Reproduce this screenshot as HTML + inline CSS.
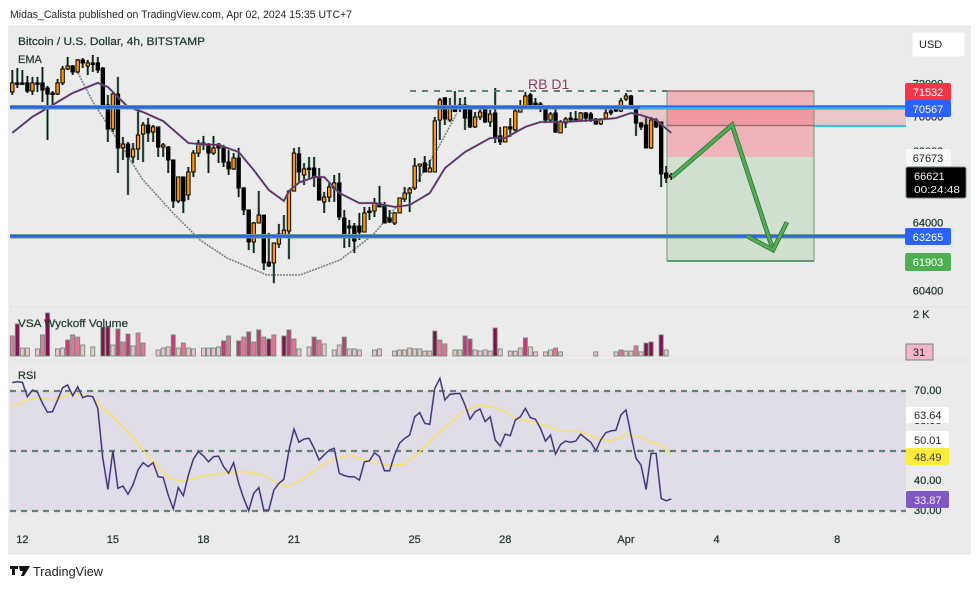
<!DOCTYPE html>
<html lang="en">
<head>
<meta charset="utf-8">
<title>Bitcoin / U.S. Dollar chart</title>
<style>
html,body{margin:0;padding:0;background:#fff;width:980px;height:589px;overflow:hidden}
svg{display:block;font-family:"Liberation Sans",sans-serif}
text{fill:#243d30}
text:not([style]){stroke:#243d30;stroke-width:.25}
</style>
</head>
<body>
<svg id="chart" width="980" height="589" viewBox="0 0 980 589" xmlns="http://www.w3.org/2000/svg">
  <text x="10" y="18" font-size="11" textLength="342" lengthAdjust="spacingAndGlyphs" style="fill:#1c2420">Midas_Calista published on TradingView.com, Apr 02, 2024 15:35 UTC+7</text>
  <rect x="9" y="26" width="961" height="528" fill="#ebebeb" stroke="#e2e2ea"/>
  <line x1="10" x2="970" y1="307" y2="307" stroke="#e0e0ea"/>
  <line x1="10" x2="970" y1="360" y2="360" stroke="#e0e0ea"/>

  <rect x="10" y="391" width="896" height="120" fill="#e0dce8"/>
  <line x1="10" x2="906" y1="391" y2="391" stroke="#5f8272" stroke-width="2.2" stroke-dasharray="6 5"/>
  <line x1="10" x2="906" y1="451" y2="451" stroke="#5f8272" stroke-width="2.2" stroke-dasharray="6 5"/>
  <line x1="10" x2="906" y1="511" y2="511" stroke="#5f8272" stroke-width="2.2" stroke-dasharray="6 5"/>

  <polygon points="667,91 814,91 814,157 667,157" fill="#eeb4b9"/>
  <polygon points="667,157 814,157 814,261 667,261" fill="#cfe0cf"/>
  <polygon points="640,108 906,108 906,126 640,126" fill="#e8a8ae" opacity="0.55"/>
  <rect x="667" y="108" width="147" height="17" fill="#ef9aa3"/>
  <rect x="667" y="91" width="147" height="170" fill="none" stroke="#6f9a7c" stroke-width="1"/>
  <line x1="664" x2="814" y1="91" y2="91" stroke="#a86a6a" stroke-width="1.5"/>
  <line x1="667" x2="814" y1="261" y2="261" stroke="#3f7f50" stroke-width="1.5"/>
  <line x1="667" x2="814" y1="125.5" y2="125.5" stroke="#a06a66" stroke-width="1.5"/>
  <line x1="814" x2="906" y1="126" y2="126" stroke="#26bcd6" stroke-width="1.8"/>

  <polyline points="78,73 93,102 113,133 143,180 173,213 200,240 227,258 267,275 300,275 340,260 373,235 417,182 437,150 457,113" fill="none" stroke="#75857d" stroke-width="1.6" stroke-dasharray="2 1"/>

  <g id="candles"></g>
  <g id="ema"></g>

  <rect x="10" y="105" width="896" height="4.5" fill="#6c9a86"/>
  <rect x="10" y="106" width="896" height="2.5" fill="#2962ff"/>
  <line x1="640" x2="906" y1="108" y2="108" stroke="#26bcd6" stroke-width="1.8"/>
  <rect x="10" y="234" width="896" height="4.5" fill="#6c9a86"/>
  <rect x="10" y="235" width="896" height="2.5" fill="#2962ff"/>

  <line x1="410" x2="667" y1="91" y2="91" stroke="#4a7a60" stroke-width="1.8" stroke-dasharray="6 6"/>
  <text x="528" y="89" font-size="14" style="fill:#8a3d68">RB D1</text>

  <polyline points="672,177 732,125 773,250" fill="none" stroke="#3a6a45" stroke-width="4.6"/>
  <polyline points="672,177 732,125 773,250" fill="none" stroke="#4caf50" stroke-width="3"/>
  <polyline points="747,236 773,250 787,222" fill="none" stroke="#3a6a45" stroke-width="4.6"/>
  <polyline points="747,236 773,250 787,222" fill="none" stroke="#4caf50" stroke-width="3"/>

  <g id="volume"></g>
  <g id="rsi"></g>

  <text x="18" y="45" font-size="11" textLength="187" lengthAdjust="spacingAndGlyphs">Bitcoin / U.S. Dollar, 4h, BITSTAMP</text>
  <text x="18" y="63" font-size="11">EMA</text>
  <text x="18" y="327" font-size="11" textLength="110" lengthAdjust="spacingAndGlyphs">VSA Wyckoff Volume</text>
  <text x="18" y="379" font-size="11">RSI</text>

  <rect x="912" y="32" width="53" height="25" rx="2" fill="#fff" stroke="#e8e8ee"/>
  <text x="919" y="48" font-size="11" style="fill:#222">USD</text>

  <g id="price-axis"></g>
  <rect x="905" y="253" width="46" height="18" rx="2" fill="#4caf50"/>
  <text x="928" y="266" font-size="11" text-anchor="middle" style="fill:#fff">61903</text>
  <rect x="905" y="83" width="46" height="18" rx="2" fill="#f23645"/>
  <text x="928" y="96" font-size="11" text-anchor="middle" style="fill:#fff">71532</text>
  <rect x="905" y="100" width="46" height="17" rx="2" fill="#2962ff"/>
  <text x="928" y="113" font-size="11" text-anchor="middle" style="fill:#fff">70567</text>
  <rect x="906" y="149" width="45" height="17" fill="#f7f7f7"/>
  <text x="928" y="162" font-size="11" text-anchor="middle" style="fill:#1c2420">67673</text>
  <rect x="906" y="167" width="60" height="31" rx="2" fill="#000" stroke="#6c8a78"/>
  <text x="914" y="180" font-size="11" style="fill:#f4f4f4">66621</text>
  <text x="914" y="193" font-size="10.5" textLength="46" lengthAdjust="spacingAndGlyphs" style="fill:#f4f4f4">00:24:48</text>
  <rect x="905" y="228" width="46" height="17" rx="2" fill="#2962ff"/>
  <text x="928" y="241" font-size="11" text-anchor="middle" style="fill:#fff">63265</text>

  <text x="913" y="318" font-size="11">2 K</text>
  <rect x="906" y="344" width="27" height="16" fill="#f4b4cc" stroke="#6c8a78"/>
  <text x="919" y="356" font-size="11" text-anchor="middle" style="fill:#222">31</text>

  <g id="rsi-axis"></g>
  <rect x="906" y="407" width="43" height="16" fill="#fff"/>
  <text x="914" y="419" font-size="11" style="fill:#1c2420">63.64</text>
  <rect x="906" y="431" width="43" height="17" fill="#fff"/>
  <text x="914" y="444" font-size="11" style="fill:#1c2420">50.01</text>
  <rect x="906" y="448" width="43" height="17" rx="2" fill="#ffeb3b"/>
  <text x="914" y="461" font-size="11" style="fill:#333a55">48.49</text>
  <rect x="906" y="491" width="43" height="17" rx="2" fill="#7e57c2"/>
  <text x="914" y="504" font-size="11" style="fill:#f0f0f0">33.87</text>

  <g id="time-axis"></g>

  <path d="M10 566h8v3h-3v6h-3v-6h-2z M19 566h11l-6 10h-3l2-5h-3z" fill="#111"/>
  <text x="33" y="576" font-size="12.5" textLength="70" lengthAdjust="spacingAndGlyphs" style="fill:#222">TradingView</text>
</svg>
<script>
const opens=[71420,71930,71930,71930,71470,71930,71930,71640,71360,71300,71930,72720,72890,72550,73230,72890,73060,73060,72770,70680,69320,71300,68250,68470,67740,68190,69040,69550,69150,69440,68300,68300,67570,65250,66610,65590,66890,67960,68530,68470,67960,68470,68250,67450,67060,67680,65980,64740,62930,64000,64450,61790,61740,62810,63270,63550,65810,67910,66720,67110,67110,66610,65190,65470,65980,66270,64280,63830,63830,63830,63490,64680,64680,65130,65020,64280,64000,64570,65360,65700,65980,67230,67400,66890,66890,69830,71080,69830,70400,70510,70680,70510,69440,70000,70450,69720,70230,68930,68590,69440,69270,70280,70570,71250,70790,70740,70450,69830,70230,69100,69660,69940,69890,69830,70230,70170,69890,69610,69940,70340,70450,70340,71020,71190,70570,69660,69550,68250,69830,69720,66830,66610];
const highs=[72660,72770,72660,72320,72270,72270,72830,71760,71470,72150,72890,73400,72940,73280,73340,73230,73510,73400,72830,71250,71420,72270,68870,68590,68530,70570,69720,69940,69550,69440,68530,68360,67570,66610,66610,67170,68130,68700,68930,68530,68930,68530,68420,68130,67960,68250,66040,64740,64060,65810,64450,63440,62870,63950,64450,65870,68250,68300,67400,67740,67740,67110,65760,66270,66720,66830,64740,64170,64000,64570,64910,64910,65420,66100,65190,64740,64620,65420,66040,66040,67680,67340,67790,67570,70000,71080,71130,71080,71470,71080,71130,70510,70280,70680,70510,70400,71640,69440,69440,69940,70510,70960,71420,71360,71080,70850,70510,70280,70570,69830,70000,70280,70340,70280,70280,70280,69940,69940,70450,70450,70680,71080,71360,71250,70570,69720,70000,70000,69940,69720,67230,66830];
const lows=[71250,71640,71810,71360,71250,71420,70850,68700,70510,71250,71810,72660,72380,72490,72770,72380,72550,72490,70570,68590,69150,66830,67570,65590,67400,67570,67450,68590,68590,67740,67740,66830,64850,65130,64570,65300,66610,67740,68130,66830,67850,67400,67170,66720,67000,65470,64450,62470,62300,64000,61340,61510,60600,62590,63150,61960,65810,66320,66150,66440,66040,65300,64570,65190,65200,64170,62590,62640,62300,63040,63490,64170,64340,64910,64000,64000,63890,64570,65190,64620,65870,66320,66890,66890,66890,68700,69550,69720,70280,70280,69270,69380,69380,69830,69660,69440,68530,68420,68590,68870,69150,70280,70510,70510,70510,70280,69660,69720,69100,69100,69380,69720,69720,69720,69720,69720,69550,69550,69890,70110,70280,70280,70910,70510,68930,69270,68250,68190,69380,66040,66270,66440];
const closes=[71930,71870,71900,71470,71930,71870,71530,71300,71300,71930,72720,72890,72550,73230,73060,73060,73000,72660,70680,69320,71300,68250,68470,67740,68190,68980,69550,69100,69440,68300,68420,67570,65250,66610,65250,66890,67960,68530,68420,67960,68250,68250,67450,67060,67680,65980,64740,62930,64000,64450,61740,61570,62870,63380,63600,65810,67960,66890,67060,67060,66610,65300,65470,66040,66270,64340,63320,63720,62980,63490,64570,64620,65130,64910,64000,64060,64570,65420,65700,65930,67230,67340,66890,67110,69780,70960,69890,70510,70340,70680,69940,69440,70000,70280,69720,70170,68810,68590,69440,69320,70340,70570,71190,70680,70680,70450,69830,70170,69150,69720,69890,69830,69830,70230,69940,69830,69610,69890,70230,70230,70340,70910,71190,70570,69660,69440,68250,69830,69440,66780,66550,66720];

const emaBars=[0,4,7,12,17,19,21,23,26,30,32,35,37,41,45,48,51,54,55,57,60,62,65,69,72,76,79,83,86,90,95,98,102,105,110,116,120,123,125,128,131];
const emaValues=[69100,70010,70510,71360,71930,71700,71130,70570,70280,69770,69270,68530,68470,68420,68020,67000,65870,65250,65810,66290,66600,66600,65700,65130,65130,64910,65020,65700,67110,68020,68810,68810,69440,69720,69720,69830,69940,70230,70110,69830,69100];

const volumes=[930,1490,370,370,50,330,980,2000,50,330,370,740,980,880,510,50,420,50,1350,1350,510,1260,650,1020,470,1070,600,50,190,280,370,420,980,370,600,370,330,50,370,370,370,420,700,930,50,700,880,1120,650,1210,880,790,980,50,930,1210,790,330,50,420,880,740,560,50,280,510,880,330,330,280,50,50,280,330,50,50,230,280,280,370,330,330,230,230,1160,740,560,50,280,280,930,790,280,230,280,230,1300,330,50,230,230,370,840,420,190,50,190,280,370,190,50,50,50,50,50,50,190,50,50,50,190,280,230,230,470,190,600,650,50,980,280,50];
const volumeTones=[2,4,1,1,0,1,2,4,0,1,1,3,2,2,1,0,1,0,4,4,1,3,2,3,1,2,2,0,0,1,1,1,3,1,2,1,1,0,1,1,1,1,3,2,0,3,2,3,2,3,2,4,2,0,4,3,2,1,0,1,3,2,1,0,1,1,3,1,1,1,0,0,1,1,0,0,1,1,1,1,1,1,1,1,4,2,2,0,1,1,3,3,1,1,1,1,4,1,0,1,1,1,3,1,1,0,1,1,2,1,0,0,0,0,0,0,1,0,0,0,1,2,1,1,2,1,4,4,0,4,1,0];

const rsiValues=[72.8,73.1,72.9,68.1,70.3,69.6,65.9,62.9,63.1,67,71.1,72,68.4,71.4,67.8,68.4,68.1,64.2,47.6,37.2,50.1,37.6,38.3,35.6,38.7,43.7,46.1,44.8,46.1,41.4,41.2,35.3,30.7,37.8,35.1,42,47.3,49.8,48.4,46.4,48.1,48.3,44.8,42.6,46.1,39.2,34.2,30.1,35.9,37.8,30.3,30.3,37,39.2,40.6,50.3,57.3,52.9,54,54.2,50.9,47,48.7,50.3,50.9,42.6,41.8,41.4,41.4,40.3,46.4,46.7,49.4,48.1,43.4,43.4,48.7,52.6,54.2,55.3,61.4,62.8,59.2,58.9,70.9,74.2,67,68.9,69.1,69.2,65.3,60.6,63.1,64,59.8,61.4,53.7,51.7,55.6,55.1,60.3,61.4,64.2,61.1,60.6,57.6,53.3,55.3,49,52.2,53.3,52.9,53.3,55.6,54.2,52.9,50.1,53.7,56.1,56.7,56.9,62,63.7,55.3,47.6,45.3,37.2,49.2,49.2,34.2,33.4,34];
const rsiMaBars=[0,3,5,8,10,12,16,18,20,23,26,29,31,34,37,42,46,50,53,55,58,61,64,66,67,71,75,78,81,84,87,90,93,96,98,100,104,109,113,116,119,122,125,127,129,131];
const rsiMaValues=[64.8,67,67.6,67,68,69.2,68.1,64,61.4,56.4,50.3,44.8,40.9,39.8,41.4,42.6,43.1,42,38.7,38.3,40.9,44.6,47.3,48.1,48.7,46.4,45.1,45.6,49.8,54.8,59.2,63.7,65.3,64.4,63.1,60.9,59.6,56.7,56.4,54.2,53.3,55.3,54.5,52.9,52,48.7];

const priceTicks=[72000,70000,68000,64000,60400];
const rsiTicks=[70,60,40,30];
const timeTicks=["12","15","18","21","25","28","Apr","4","8"];
const timeTickBars=[2,20,38,56,80,98,122,140,164];

const NS="http://www.w3.org/2000/svg";
function make(tag,attrs,parent){
  const el=document.createElementNS(NS,tag);
  for(const k in attrs){el.setAttribute(k,attrs[k]);}
  parent.appendChild(el);
  return el;
}
function barX(i){return 12.3+5.03*i;}
function priceY(p){return 107+(70567-p)/56.6;}
function axisPriceY(p){return 107+1181*Math.log(70567/p);}
function volumeY(v){return 356-v/2000*43;}
function rsiY(v){return 511-(v-30)*3;}
function pathOf(xs,ys){return xs.map((x,i)=>x.toFixed(1)+","+ys[i].toFixed(1)).join(" ");}

const candleGroup=document.getElementById("candles");
opens.forEach((o,i)=>{
  const c=closes[i],x=barX(i),up=c>=o;
  const top=priceY(Math.max(o,c)),bot=priceY(Math.min(o,c));
  const halo=make("line",{x1:x,x2:x,y1:priceY(highs[i]),y2:priceY(lows[i]),stroke:"#5f7f6e","stroke-width":2.4},candleGroup);
  
  
  const wick=make("line",{x1:x,x2:x,y1:priceY(highs[i]),y2:priceY(lows[i]),stroke:"#0e1a14","stroke-width":1.2},candleGroup);
  
  
  const body=make("rect",{x:x-1.7,y:top,width:3.4,height:Math.max(bot-top,1.5),fill:up?"#ff9800":"#000",stroke:"#000","stroke-width":1},candleGroup);
  
  
});

const emaGroup=document.getElementById("ema");
const emaXs=emaBars.map(barX),emaYs=emaValues.map(priceY);
const emaGlow=make("polyline",{points:pathOf(emaXs,emaYs),fill:"none",stroke:"#26c6da","stroke-width":2.6,opacity:0.55},emaGroup);


const emaLine=make("polyline",{points:pathOf(emaXs,emaYs),fill:"none",stroke:"#7b1f57","stroke-width":1.6},emaGroup);



const toneColors=["#f3dbe3","#eec0cf","#ec6f9c","#c43a78","#880e4f"];
const volumeGroup=document.getElementById("volume");
volumes.forEach((v,i)=>{
  const y=volumeY(v),tone=volumeTones[i];
  const bar=make("rect",{x:barX(i)-2,y:y,width:4,height:356-y,fill:toneColors[tone],stroke:tone===0?"none":"#6c9078","stroke-width":tone===0?0:0.9},volumeGroup);
  
  
});

const rsiGroup=document.getElementById("rsi");
const rsiMaLine=make("polyline",{points:pathOf(rsiMaBars.map(barX),rsiMaValues.map(rsiY)),fill:"none",stroke:"#fbe34f","stroke-width":1.3},rsiGroup);


const rsiXs=rsiValues.map((v,i)=>barX(i)),rsiYs=rsiValues.map(rsiY);
const rsiOuter=make("polyline",{points:pathOf(rsiXs,rsiYs),fill:"none",stroke:"#8a70c4","stroke-width":1.8},rsiGroup);


const rsiInner=make("polyline",{points:pathOf(rsiXs,rsiYs),fill:"none",stroke:"#2c3358","stroke-width":0.9},rsiGroup);



const priceAxis=document.getElementById("price-axis");
priceTicks.forEach(p=>{
  const t=make("text",{x:928,y:axisPriceY(p)+4,"font-size":11,"text-anchor":"middle"},priceAxis);
  
  
  t.textContent=String(p);
});
const rsiAxis=document.getElementById("rsi-axis");
rsiTicks.forEach(v=>{
  const t=make("text",{x:914,y:rsiY(v)+3,"font-size":11},rsiAxis);
  
  
  t.textContent=v.toFixed(2);
});
const timeAxis=document.getElementById("time-axis");
timeTicks.forEach((label,i)=>{
  const t=make("text",{x:barX(timeTickBars[i]),y:543,"font-size":11,"text-anchor":"middle"},timeAxis);
  
  
  t.textContent=label;
});
</script>
</body>
</html>
